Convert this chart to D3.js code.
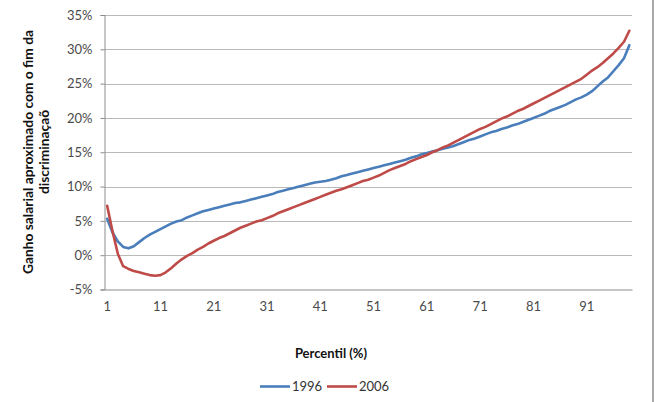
<!DOCTYPE html>
<html><head><meta charset="utf-8">
<script src="https://cdn.jsdelivr.net/npm/d3@7"></script>
<style>body{margin:0;background:#fff}svg{display:block}</style>
</head><body><svg id="c" width="657" height="402"></svg>
<script>
const percentiles = d3.range(1, 100);
const series1996 = [5.3,3.3,2.0,1.2,1.0,1.3,1.9,2.5,3.0,3.4,
3.8,4.2,4.6,4.9,5.1,5.5,5.8,6.1,6.4,6.6,
6.8,7.0,7.2,7.4,7.6,7.7,7.9,8.1,8.3,8.5,
8.7,8.9,9.2,9.4,9.6,9.8,10.0,10.2,10.4,10.6,
10.7,10.8,11.0,11.2,11.5,11.7,11.9,12.1,12.3,12.5,
12.7,12.9,13.1,13.3,13.5,13.7,13.9,14.2,14.4,14.7,
14.9,15.1,15.3,15.5,15.7,15.9,16.2,16.5,16.8,17.0,
17.3,17.6,17.9,18.1,18.4,18.6,18.9,19.1,19.4,19.7,
20.0,20.3,20.6,21.0,21.3,21.6,21.9,22.3,22.7,23.0,
23.4,23.9,24.6,25.3,25.9,26.8,27.7,28.7,30.6];
const series2006 = [7.2,3.5,0.2,-1.6,-2.0,-2.3,-2.5,-2.7,-2.9,-3.0,
-2.9,-2.5,-1.9,-1.2,-0.6,-0.1,0.3,0.8,1.2,1.7,
2.1,2.5,2.8,3.2,3.6,4.0,4.3,4.6,4.9,5.1,
5.4,5.7,6.1,6.4,6.7,7.0,7.3,7.6,7.9,8.2,
8.5,8.8,9.1,9.4,9.6,9.9,10.2,10.5,10.8,11.0,
11.3,11.6,12.0,12.4,12.7,13.0,13.3,13.7,14.0,14.3,
14.6,15.0,15.3,15.7,16.0,16.4,16.8,17.2,17.6,18.0,
18.4,18.7,19.1,19.5,19.9,20.2,20.6,21.0,21.3,21.7,
22.1,22.5,22.9,23.3,23.7,24.1,24.5,24.9,25.3,25.7,
26.3,26.9,27.4,28.0,28.7,29.4,30.2,31.1,32.7];
const yTicks = [-5,0,5,10,15,20,25,30,35];
const xTickLabels = [1,11,21,31,41,51,61,71,81,91];
const seriesNames = ["1996","2006"];
const colors = ["#4A7EBB","#BE4B48"];

const svg = d3.select("#c");
const font = "Lato, 'Open Sans', sans-serif";
const x = d3.scaleBand().domain(percentiles).range([104.5, 632]).padding(0);
const xc = p => x(p) + x.bandwidth()/2;
const y = d3.scaleLinear().domain([-5, 35]).range([289.5, 15]);

// gridlines
svg.append("g").selectAll("line").data(yTicks.filter(d=>d!==-5)).join("line")
  .attr("x1", 104.5).attr("x2", 632)
  .attr("y1", d=>Math.round(y(d))+0.5).attr("y2", d=>Math.round(y(d))+0.5)
  .attr("stroke", "#b9b9b9").attr("stroke-width", 1);

// y axis
const yAxis = d3.axisLeft(y).tickValues(yTicks).tickSize(4).tickPadding(8)
  .tickFormat(d => d + "%");
const gy = svg.append("g").attr("transform", "translate(104.5,0)").call(yAxis);
gy.select(".domain").attr("stroke", "#8c8c8c");
gy.selectAll(".tick line").attr("stroke", "#8c8c8c");
gy.selectAll("text").attr("font-family", font).attr("font-size", 13).attr("fill", "#4a4a4a");

// x axis
const xAxis = d3.axisBottom(x).tickValues(xTickLabels).tickSize(0).tickPadding(12);
const gx = svg.append("g").attr("transform", "translate(0,289.5)").call(xAxis);
gx.select(".domain").attr("stroke", "#8c8c8c");
gx.selectAll("text").attr("font-family", font).attr("font-size", 13).attr("fill", "#4a4a4a");

// lines
const line = d3.line().x((d,i)=>xc(percentiles[i])).y(d=>y(d));
[series1996, series2006].forEach((s, k) => {
  svg.append("path").datum(s).attr("d", line)
    .attr("fill", "none").attr("stroke", colors[k]).attr("stroke-width", 2.6)
    .attr("stroke-linejoin", "round").attr("stroke-linecap", "round");
});

// y title
const yt = svg.append("text").attr("transform", "translate(33,152) rotate(-90)")
  .attr("text-anchor", "middle").attr("font-family", font).attr("font-weight", "bold")
  .attr("font-size", 13.8).attr("fill", "#111");
yt.append("tspan").attr("x", 0).attr("dy", 0).text("Ganho salarial aproximado com o fim da");
yt.append("tspan").attr("x", 0).attr("dy", 16).text("discriminaçaõ");

// x title
svg.append("text").attr("x", 331).attr("y", 358).attr("text-anchor", "middle")
  .attr("font-family", font).attr("font-weight", "bold").attr("font-size", 13)
  .attr("fill", "#111").text("Percentil (%)");

// legend
const lg = svg.append("g");
const legendX = [260, 327];
seriesNames.forEach((n, k) => {
  lg.append("line").attr("x1", legendX[k]).attr("x2", legendX[k]+30)
    .attr("y1", 386.5).attr("y2", 386.5).attr("stroke", colors[k]).attr("stroke-width", 2.6);
  lg.append("text").attr("x", legendX[k]+32).attr("y", 391)
    .attr("font-family", font).attr("font-size", 13).attr("fill", "#333").text(n);
});

// right border
svg.append("line").attr("x1", 653).attr("x2", 653).attr("y1", 0).attr("y2", 402)
  .attr("stroke", "#8c8c8c").attr("stroke-width", 1.5);
</script></body></html>
